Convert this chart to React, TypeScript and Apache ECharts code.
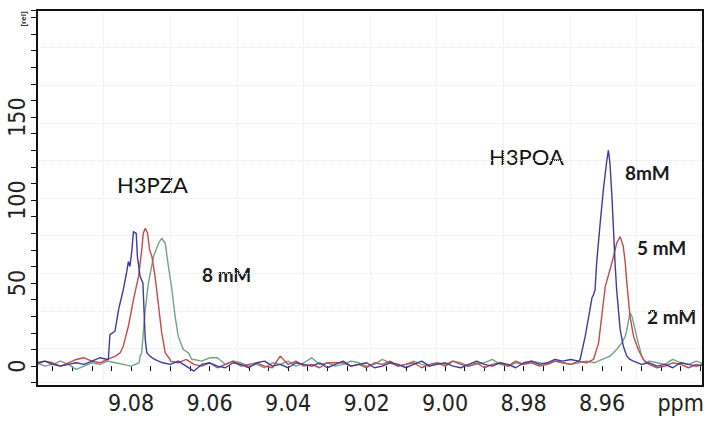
import React, { useEffect, useRef } from "react";
import * as echarts from "echarts";

// Chemical-shift sampling grid for the baseline (ppm)
const PPM_GRID: number[] = [
  9.104, 9.102, 9.100, 9.098, 9.096, 9.094, 9.092, 9.090, 9.088, 9.086,
  9.084, 9.082, 9.080, 9.078, 9.076, 9.074, 9.072, 9.070, 9.068, 9.066,
  9.064, 9.062, 9.060, 9.058, 9.056, 9.054, 9.052, 9.050, 9.048, 9.046,
  9.044, 9.042, 9.040, 9.038, 9.036, 9.034, 9.032, 9.030, 9.028, 9.026,
  9.024, 9.022, 9.020, 9.018, 9.016, 9.014, 9.012, 9.010, 9.008, 9.006,
  9.004, 9.002, 9.000, 8.998, 8.996, 8.994, 8.992, 8.990, 8.988, 8.986,
  8.984, 8.982, 8.980, 8.978, 8.976, 8.974, 8.972, 8.970, 8.968, 8.966,
  8.964, 8.962, 8.960, 8.958, 8.956, 8.954, 8.952, 8.950, 8.948, 8.946,
  8.944, 8.942, 8.940, 8.938, 8.936, 8.934,
];

// Baseline noise of each spectrum on PPM_GRID
const BLUE_BASE: number[] = [
  2, 3, 1, 0, 1, 2, 1, 3, 5, 4,
  0, 0, 0, 0, 0, 4, 2, 1, 3, 0,
  -3, 1, 2, 0, -1, 2, 1, -1, 2, 3,
  0, 1, -1, 2, 1, 0, 2, -1, 1, 3,
  0, 1, 2, -1, 0, 2, 1, -1, 1, 3,
  0, 1, 2, 0, -1, 1, 3, 1, 0, 2,
  1, -1, 2, 3, 1, 2, 4, 3, 4, 3,
  0, 0, 0, 0, 0, 0, 3, 1, 2, 0,
  1, -1, 2, 1, 0, 1,
];
const RED_BASE: number[] = [
  1, 3, 2, 0, 2, 4, 5, 3, 2, 4,
  6, 0, 0, 0, 0, 0, 0, 3, 2, 4,
  1, 0, 2, -1, 1, 3, 0, 1, 2, 0,
  -1, 6, 1, 3, 0, 1, -1, 2, 2, 2,
  0, 1, -1, 2, 1, 3, 0, 1, 2, -1,
  1, 2, 0, 3, 1, 0, 2, -1, 1, 2,
  0, 3, 1, 2, 0, 1, 3, 2, 1, 3,
  2, 0, 0, 0, 0, 0, 0, 2, 1, -1,
  0, 2, 1, -1, 1, 0,
];
const GREEN_BASE: number[] = [
  2, 0, 1, 3, 1, -2, 0, 2, 1, 3,
  2, 1, 0, 2, 0, 0, 0, 0, 0, 0,
  4, 3, 5, 5, 1, 3, 2, 0, 1, -1,
  2, 1, 3, 0, 2, 5, 1, 2, 0, 1,
  3, 2, 0, 1, 4, 2, 0, 1, 3, 1,
  0, 2, 1, 3, 2, 0, 1, 2, 4, 1,
  0, 2, 1, 3, 2, 1, 3, 2, 1, 2,
  3, 2, 4, 3, 0, 0, 0, 0, 3, 2,
  1, 4, 2, 1, 3, 1,
];

// Peak profiles [ppm, intensity], highest ppm first
const BLUE_PZA: [number, number][] = [
  [9.0858, 4], [9.0854, 19], [9.0841, 21], [9.0832, 34], [9.0820, 46],
  [9.0811, 57], [9.0807, 63], [9.0803, 60], [9.0798, 70], [9.0794, 81],
  [9.0787, 80], [9.0784, 66], [9.0777, 54], [9.0770, 50], [9.0764, 16],
  [9.0760, 8], [9.0752, 6],
];
const RED_PZA: [number, number][] = [
  [9.0828, 8], [9.0820, 12], [9.0807, 24], [9.0794, 40], [9.0781, 54],
  [9.0773, 70], [9.0769, 80], [9.0764, 83], [9.0758, 80], [9.0753, 70],
  [9.0747, 66], [9.0739, 54], [9.0730, 36], [9.0722, 20], [9.0713, 8],
  [9.0701, 4],
];
const GREEN_PZA: [number, number][] = [
  [9.0777, 6], [9.0773, 8], [9.0769, 20], [9.0764, 34], [9.0756, 50],
  [9.0743, 66], [9.0730, 74], [9.0722, 77], [9.0713, 74], [9.0705, 60],
  [9.0696, 46], [9.0688, 30], [9.0680, 18], [9.0667, 10], [9.0654, 8],
  [9.0645, 4],
];
const BLUE_POA: [number, number][] = [
  [8.9656, 4], [8.9643, 18], [8.9631, 34], [8.9626, 41], [8.9622, 43],
  [8.9618, 46], [8.9614, 62], [8.9605, 86], [8.9597, 106], [8.9588, 124],
  [8.9584, 130], [8.9580, 122], [8.9575, 102], [8.9571, 82], [8.9567, 62],
  [8.9563, 46], [8.9554, 22], [8.9546, 12], [8.9537, 6], [8.9529, 4],
];
const RED_POA: [number, number][] = [
  [8.9622, 4], [8.9609, 14], [8.9601, 30], [8.9592, 48], [8.9580, 58],
  [8.9571, 66], [8.9563, 74], [8.9554, 78], [8.9546, 72], [8.9541, 62],
  [8.9537, 50], [8.9529, 30], [8.9520, 18], [8.9508, 10], [8.9495, 4],
];
const GREEN_POA: [number, number][] = [
  [8.9580, 6], [8.9563, 10], [8.9550, 14], [8.9541, 18], [8.9537, 22],
  [8.9529, 32], [8.9524, 30], [8.9516, 22], [8.9508, 14], [8.9499, 6],
  [8.9490, 2],
];

const Y_LABELS = [0, 50, 100, 150];
const X_LABELS = [9.08, 9.06, 9.04, 9.02, 9.0, 8.98, 8.96];

function buildSeries(base: number[], peaks: [number, number][][]): [number, number][] {
  const pts: [number, number][] = [];
  PPM_GRID.forEach((p, i) => {
    const inside = peaks.some((pk) => p <= pk[0][0] && p >= pk[pk.length - 1][0]);
    if (!inside) pts.push([p, base[i]]);
  });
  peaks.forEach((pk) => pk.forEach((pt) => pts.push(pt)));
  pts.sort((a, b) => b[0] - a[0]);
  return pts;
}

const TICK_FONT = "'Liberation Sans Narrow', 'DejaVu Sans Condensed', sans-serif";
const NOTE_FONT = "Lato, 'Open Sans', sans-serif";

// Frame of the plot (the outer box), and the scale's own area inside it
const BOX = { left: 37, top: 10, width: 666, height: 376 };
const GRID = { left: 37, top: 10, width: 663.25, height: 372.7 };

export default function App() {
  const ref = useRef<HTMLDivElement>(null);
  useEffect(() => {
    document.body.style.margin = "0";
    if (!ref.current) return;
    const chart = echarts.init(ref.current, undefined, { renderer: "svg" });
    const lineStyle = (c: string) => ({ color: c, width: 1.4 });
    const gridLine = { show: true, lineStyle: { color: "#e8e8e8", type: "dotted", width: 1 } };
    chart.setOption({
      animation: false,
      backgroundColor: "#ffffff",
      grid: { ...GRID, show: false },
      xAxis: [
        {
          type: "value", inverse: true, min: 8.935, max: 9.10398, interval: 0.005,
          offset: BOX.top + BOX.height - (GRID.top + GRID.height),
          axisLine: { show: false },
          axisTick: { show: true, length: 5, lineStyle: { color: "#111", width: 1 } },
          splitLine: { show: false },
          axisLabel: {
            margin: 5, color: "#222", fontSize: 23, fontFamily: TICK_FONT,
            showMinLabel: true, showMaxLabel: true, interval: 0, hideOverlap: false,
            formatter: (v: number) => {
              const k = Math.round(v * 1000);
              if (Math.abs(v * 1000 - k) > 1e-3) return "";
              if (k === 8940) return "ppm";
              const hit = X_LABELS.find((l) => Math.round(l * 1000) === k);
              return hit !== undefined ? hit.toFixed(2) : "";
            },
          },
        },
        {
          type: "value", min: 0, max: GRID.width / (BOX.width / 10), interval: 1, position: "top",
          axisLine: { show: false }, axisTick: { show: false }, axisLabel: { show: false },
          splitLine: gridLine,
        },
      ],
      yAxis: [
        {
          type: "value", min: -10, max: 214.5, interval: 10,
          axisLine: { show: false },
          axisTick: { show: true, length: 6, lineStyle: { color: "#111", width: 1 } },
          splitLine: { show: false },
          axisLabel: {
            rotate: 90, margin: 9, color: "#222", fontSize: 23, fontFamily: TICK_FONT,
            formatter: (v: number) => (Y_LABELS.indexOf(v) >= 0 ? String(v) : ""),
          },
        },
        {
          type: "value", inverse: true, min: 0, max: GRID.height / (BOX.height / 10), interval: 1, position: "right",
          axisLine: { show: false }, axisTick: { show: false }, axisLabel: { show: false },
          splitLine: gridLine,
        },
      ],
      series: [
        { name: "2 mM", type: "line", clip: false, data: buildSeries(GREEN_BASE, [GREEN_PZA, GREEN_POA]), showSymbol: false, symbol: "none", lineStyle: lineStyle("#74a184"), color: "#74a184", z: 3 },
        { name: "5 mM", type: "line", clip: false, data: buildSeries(RED_BASE, [RED_PZA, RED_POA]), showSymbol: false, symbol: "none", lineStyle: lineStyle("#c24a4e"), color: "#c24a4e", z: 4 },
        { name: "8 mM", type: "line", clip: false, data: buildSeries(BLUE_BASE, [BLUE_PZA, BLUE_POA]), showSymbol: false, symbol: "none", lineStyle: lineStyle("#3c3c9c"), color: "#3c3c9c", z: 5 },
      ],
      graphic: [
        { type: "rect", z: 100, shape: { x: BOX.left, y: BOX.top, width: BOX.width, height: BOX.height }, style: { fill: "none", stroke: "#111", lineWidth: 2 } },
        { type: "text", x: 23, y: 19, rotation: Math.PI / 2, style: { text: "[rel]", font: "bold 8px 'Liberation Sans', sans-serif", fill: "#333", textAlign: "center", textVerticalAlign: "middle" } },
        { type: "text", left: 117, top: 173, style: { text: "H3PZA", font: `22px ${NOTE_FONT}`, fill: "#111" } },
        { type: "text", left: 489, top: 145, style: { text: "H3POA", font: `22px ${NOTE_FONT}`, fill: "#111" } },
        { type: "text", left: 625, top: 163, style: { text: "8mM", font: `bold 19px ${NOTE_FONT}`, fill: "#1a1a1a" } },
        { type: "text", left: 637, top: 238, style: { text: "5 mM", font: `bold 19px ${NOTE_FONT}`, fill: "#1a1a1a" } },
        { type: "text", left: 647, top: 307, style: { text: "2 mM", font: `bold 19px ${NOTE_FONT}`, fill: "#1a1a1a" } },
        { type: "text", left: 202, top: 265, style: { text: "8 mM", font: `bold 19px ${NOTE_FONT}`, fill: "#1a1a1a" } },
      ],
    });
    return () => chart.dispose();
  }, []);
  return <div ref={ref} style={{ width: 714, height: 424 }} />;
}
